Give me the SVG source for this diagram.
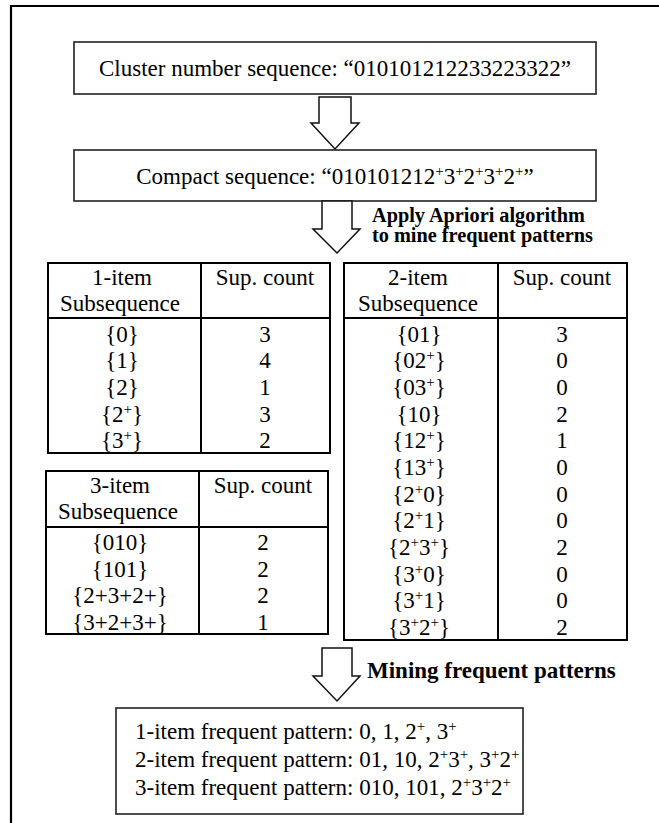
<svg xmlns="http://www.w3.org/2000/svg" width="659" height="823" viewBox="0 0 659 823">
<style>
text{font-family:"Liberation Serif","Times New Roman",serif;fill:#000}
.t{font-size:23px}
.c{text-anchor:middle}
.b{font-weight:bold}
.sup{font-size:15px}
.box{fill:#fff;stroke:#222;stroke-width:1.6}
.tbl{fill:none;stroke:#000;stroke-width:2}
.arr{fill:#fff;stroke:#111;stroke-width:1.5;stroke-linejoin:miter}
</style>
<rect width="659" height="823" fill="#fff"/>
<polyline points="11,823 11,6 659,6" fill="none" stroke="#000" stroke-width="2.2"/>

<g id="cluster-seq">
<rect class="box" x="74" y="42" width="522" height="52"/>
<text class="t c" x="335" y="76">Cluster number sequence: “010101212233223322”</text>
</g>

<g id="compact-seq">
<rect class="box" x="74" y="150" width="522" height="51"/>
<text class="t c" x="335" y="184">Compact sequence: “010101212<tspan class="sup" dy="-8">+</tspan><tspan dy="8">3</tspan><tspan class="sup" dy="-8">+</tspan><tspan dy="8">2</tspan><tspan class="sup" dy="-8">+</tspan><tspan dy="8">3</tspan><tspan class="sup" dy="-8">+</tspan><tspan dy="8">2</tspan><tspan class="sup" dy="-8">+</tspan><tspan dy="8">”</tspan></text>
</g>

<g id="table-1item">
<rect class="tbl" x="48" y="263" width="282" height="190"/>
<line class="tbl" x1="201" y1="263" x2="201" y2="453"/>
<line class="tbl" x1="48" y1="318" x2="330" y2="318"/>
<text class="t c" x="122" y="285">1-item</text>
<text class="t c" x="120" y="311">Subsequence</text>
<text class="t c" x="265" y="285">Sup. count</text>
<text class="t c" x="122" y="341.5">{0}</text><text class="t c" x="265" y="341.5">3</text>
<text class="t c" x="122" y="368">{1}</text><text class="t c" x="265" y="368">4</text>
<text class="t c" x="122" y="395">{2}</text><text class="t c" x="265" y="395">1</text>
<text class="t c" x="122" y="421.5">{2<tspan class="sup" dy="-8">+</tspan><tspan dy="8">}</tspan></text><text class="t c" x="265" y="421.5">3</text>
<text class="t c" x="122" y="448">{3<tspan class="sup" dy="-8">+</tspan><tspan dy="8">}</tspan></text><text class="t c" x="265" y="448">2</text>
</g>

<g id="table-3item">
<rect class="tbl" x="46" y="471" width="282" height="163"/>
<line class="tbl" x1="199" y1="471" x2="199" y2="634"/>
<line class="tbl" x1="46" y1="527" x2="328" y2="527"/>
<text class="t c" x="120" y="493">3-item</text>
<text class="t c" x="118" y="519">Subsequence</text>
<text class="t c" x="263" y="493">Sup. count</text>
<text class="t c" x="120" y="550">{010}</text><text class="t c" x="263" y="550">2</text>
<text class="t c" x="120" y="576.5">{101}</text><text class="t c" x="263" y="576.5">2</text>
<text class="t c" x="120" y="603">{2+3+2+}</text><text class="t c" x="263" y="603">2</text>
<text class="t c" x="120" y="629.5">{3+2+3+}</text><text class="t c" x="263" y="629.5">1</text>
</g>

<g id="table-2item">
<rect class="tbl" x="344" y="263" width="283" height="377"/>
<line class="tbl" x1="498" y1="263" x2="498" y2="640"/>
<line class="tbl" x1="344" y1="318" x2="627" y2="318"/>
<text class="t c" x="418" y="285">2-item</text>
<text class="t c" x="418" y="311">Subsequence</text>
<text class="t c" x="562" y="285">Sup. count</text>
<text class="t c" x="419" y="341.5">{01}</text><text class="t c" x="562" y="341.5">3</text>
<text class="t c" x="419" y="368.2">{02<tspan class="sup" dy="-8">+</tspan><tspan dy="8">}</tspan></text><text class="t c" x="562" y="368.2">0</text>
<text class="t c" x="419" y="394.8">{03<tspan class="sup" dy="-8">+</tspan><tspan dy="8">}</tspan></text><text class="t c" x="562" y="394.8">0</text>
<text class="t c" x="419" y="421.5">{10}</text><text class="t c" x="562" y="421.5">2</text>
<text class="t c" x="419" y="448.2">{12<tspan class="sup" dy="-8">+</tspan><tspan dy="8">}</tspan></text><text class="t c" x="562" y="448.2">1</text>
<text class="t c" x="419" y="474.8">{13<tspan class="sup" dy="-8">+</tspan><tspan dy="8">}</tspan></text><text class="t c" x="562" y="474.8">0</text>
<text class="t c" x="419" y="501.5">{2<tspan class="sup" dy="-8">+</tspan><tspan dy="8">0}</tspan></text><text class="t c" x="562" y="501.5">0</text>
<text class="t c" x="419" y="528.2">{2<tspan class="sup" dy="-8">+</tspan><tspan dy="8">1}</tspan></text><text class="t c" x="562" y="528.2">0</text>
<text class="t c" x="419" y="554.8">{2<tspan class="sup" dy="-8">+</tspan><tspan dy="8">3</tspan><tspan class="sup" dy="-8">+</tspan><tspan dy="8">}</tspan></text><text class="t c" x="562" y="554.8">2</text>
<text class="t c" x="419" y="581.5">{3<tspan class="sup" dy="-8">+</tspan><tspan dy="8">0}</tspan></text><text class="t c" x="562" y="581.5">0</text>
<text class="t c" x="419" y="608.2">{3<tspan class="sup" dy="-8">+</tspan><tspan dy="8">1}</tspan></text><text class="t c" x="562" y="608.2">0</text>
<text class="t c" x="419" y="634.8">{3<tspan class="sup" dy="-8">+</tspan><tspan dy="8">2</tspan><tspan class="sup" dy="-8">+</tspan><tspan dy="8">}</tspan></text><text class="t c" x="562" y="634.8">2</text>
</g>

<g id="frequent-patterns">
<rect class="box" x="116" y="708" width="407" height="106"/>
<text class="t" x="135" y="739">1-item frequent pattern: 0, 1, 2<tspan class="sup" dy="-8">+</tspan><tspan dy="8">, 3</tspan><tspan class="sup" dy="-8">+</tspan></text>
<text class="t" x="135" y="767">2-item frequent pattern: 01, 10, 2<tspan class="sup" dy="-8">+</tspan><tspan dy="8">3</tspan><tspan class="sup" dy="-8">+</tspan><tspan dy="8">, 3</tspan><tspan class="sup" dy="-8">+</tspan><tspan dy="8">2</tspan><tspan class="sup" dy="-8">+</tspan></text>
<text class="t" x="135" y="795">3-item frequent pattern: 010, 101, 2<tspan class="sup" dy="-8">+</tspan><tspan dy="8">3</tspan><tspan class="sup" dy="-8">+</tspan><tspan dy="8">2</tspan><tspan class="sup" dy="-8">+</tspan></text>
</g>

<g id="connectors">
<path class="arr" d="M319,97 H351 V123 H359 L335,149 L311,123 H319 Z"/>
<path class="arr" d="M322,201 H352 V229 H360 L337,253 L313,229 H322 Z"/>
<text class="b" x="372" y="222" font-size="20.3">Apply Apriori algorithm</text>
<text class="b" x="372" y="242" font-size="20.3">to mine frequent patterns</text>
<path class="arr" d="M322,648 H352 V676 H360 L337,701 L313,676 H322 Z"/>
<text class="b" x="367" y="678" font-size="23">Mining frequent patterns</text>
</g>
</svg>
